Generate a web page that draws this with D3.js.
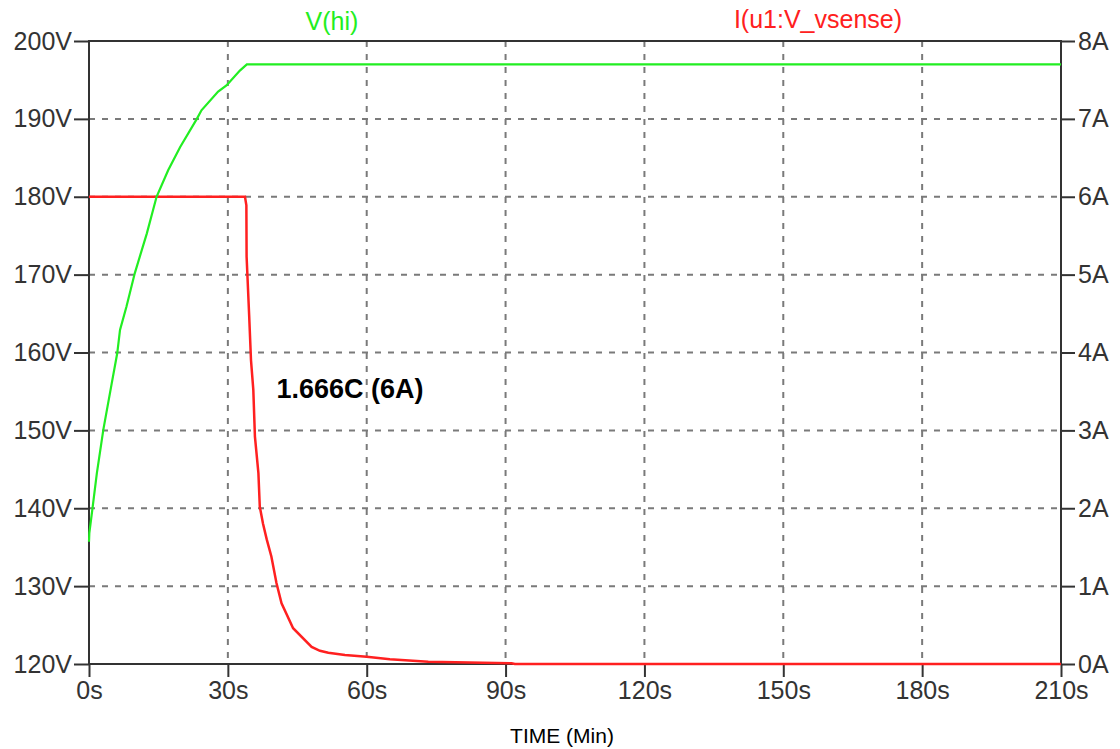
<!DOCTYPE html>
<html>
<head>
<meta charset="utf-8">
<script src="https://cdn.jsdelivr.net/npm/d3@7"></script>
<style>
  body { margin: 0; background: #fff; }
  text { font-family: "Liberation Sans", Arial, sans-serif; }
</style>
</head>
<body>
<svg width="1120" height="749"></svg>
<script>
// V(hi) trace
const vTime = [0, 0.07, 0.8, 1.7, 3.1, 4.9, 6.1, 6.7, 8.1, 9.9, 12.5, 14.6, 17.1, 19.7, 23.3, 24.3, 27.9, 29.7, 32.6, 34.1, 210];
const vHi   = [135.7, 136.8, 140.2, 144.5, 150.1, 156.0, 159.9, 162.9, 165.9, 170.2, 175.3, 180.0, 183.4, 186.4, 190.0, 191.1, 193.5, 194.3, 196.2, 197.0, 197.0];

// I(u1:V_vsense) trace
const iTime  = [0, 33.7, 34.0, 34.05, 34.6, 35.0, 35.5, 35.85, 36.6, 36.9, 37.6, 38.4, 39.4, 40.5, 41.6, 44.1, 48.1, 49.9, 51.7, 55.3, 60, 65, 73.3, 91.3, 92, 210];
const iSense = [6, 6, 5.89, 5.23, 4.48, 3.9, 3.52, 2.92, 2.45, 2.02, 1.8, 1.6, 1.38, 1.04, 0.78, 0.46, 0.22, 0.17, 0.145, 0.116, 0.094, 0.06, 0.03, 0.01, 0, 0];

const timeTicks = [0, 30, 60, 90, 120, 150, 180, 210];
const voltTicks = [120, 130, 140, 150, 160, 170, 180, 190, 200];
const ampTicks  = [0, 1, 2, 3, 4, 5, 6, 7, 8];

const svg = d3.select('svg')
const margin = {top: 41, right: 59, bottom: 85, left: 89};
const width = 1120 - margin.left - margin.right;
const height = 749 - margin.top - margin.bottom;
const graph = svg.append("g").attr("transform", "translate(" + margin.left + "," + margin.top + ")");

const x = d3.scaleLinear().domain([0, 210]).range([0, width]);
const yV = d3.scaleLinear().domain([120, 200]).range([height, 0]);
const yA = d3.scaleLinear().domain([0, 8]).range([height, 0]);

// dashed grid
graph.append("g").selectAll("line")
  .data(timeTicks.slice(1, -1))
  .enter().append("line")
  .attr("x1", d => x(d)).attr("x2", d => x(d))
  .attr("y1", 0).attr("y2", height)
  .attr("stroke", "#7a7a7a").attr("stroke-width", 2).attr("stroke-dasharray", "6,7");
graph.append("g").selectAll("line")
  .data(voltTicks.slice(1, -1))
  .enter().append("line")
  .attr("x1", 0).attr("x2", width)
  .attr("y1", d => yV(d)).attr("y2", d => yV(d))
  .attr("stroke", "#7a7a7a").attr("stroke-width", 2).attr("stroke-dasharray", "6,7");

// frame
graph.append("rect")
  .attr("width", width).attr("height", height)
  .attr("fill", "none").attr("stroke", "#333").attr("stroke-width", 2);

const styleAxis = g => {
  g.select(".domain").remove();
  g.selectAll("line").attr("stroke", "#333").attr("stroke-width", 2);
  g.selectAll("text").attr("fill", "#333").style("font-size", "25px")
   .style("font-family", "'Liberation Sans', Arial, sans-serif");
}

graph.append("g")
  .call(d3.axisLeft(yV).tickValues(voltTicks).tickFormat(d => d + "V").tickSize(15).tickPadding(2))
  .call(styleAxis);
graph.append("g")
  .attr("transform", "translate(" + width + ",0)")
  .call(d3.axisRight(yA).tickValues(ampTicks).tickFormat(d => d + "A").tickSize(14).tickPadding(3))
  .call(styleAxis);
graph.append("g")
  .attr("transform", "translate(0," + height + ")")
  .call(d3.axisBottom(x).tickValues(timeTicks).tickFormat(d => d + "s").tickSize(13).tickPadding(4))
  .call(styleAxis);

// traces
const vLine = d3.line().x((d, i) => x(vTime[i])).y(d => yV(d));
const iLine = d3.line().x((d, i) => x(iTime[i])).y(d => yA(d));

graph.append("path").datum(iSense)
  .attr("d", iLine).attr("fill", "none")
  .attr("stroke", "#ff2020").attr("stroke-width", 2.5);
graph.append("path").datum(vHi)
  .attr("d", vLine).attr("fill", "none")
  .attr("stroke", "#22ee22").attr("stroke-width", 2.2);

// trace names
graph.append("text")
  .attr("x", width / 4).attr("y", -11)
  .attr("text-anchor", "middle")
  .attr("fill", "#22ee22").style("font-size", "25px")
  .text("V(hi)");
graph.append("text")
  .attr("x", width * 3 / 4).attr("y", -13)
  .attr("text-anchor", "middle")
  .attr("fill", "#ff2020").style("font-size", "25px")
  .text("I(u1:V_vsense)");

// annotation
graph.append("text")
  .attr("x", x(40.5)).attr("y", yV(150) - 32)
  .attr("fill", "#000").style("font-size", "27px").style("font-weight", "bold")
  .text("1.666C (6A)");

// x title
svg.append("text")
  .attr("x", 562).attr("y", 743)
  .attr("text-anchor", "middle")
  .attr("fill", "#000").style("font-size", "21px")
  .text("TIME (Min)");
</script>
</body>
</html>
